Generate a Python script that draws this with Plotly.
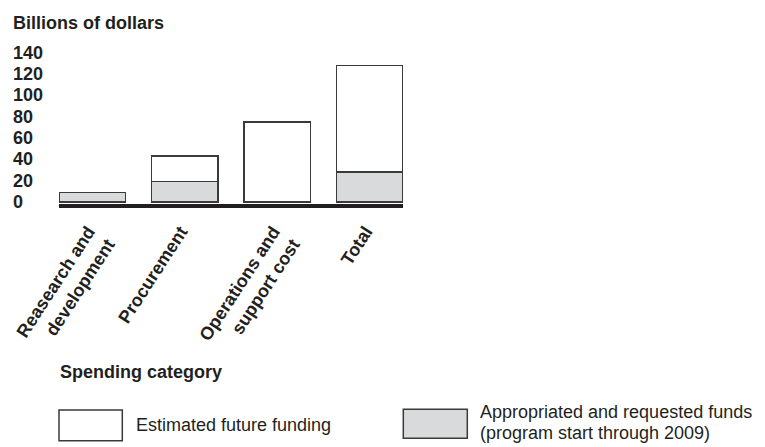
import plotly.graph_objects as go

# ---- data ----
categories = ["Reasearch and<br>development", "Procurement", "Operations and<br>support cost", "Total"]
appropriated = [9, 19, 0, 28]      # Appropriated and requested funds (program start through 2009)
future = [0, 24, 75, 100]          # Estimated future funding
y_ticks = [0, 20, 40, 60, 80, 100, 120, 140]

# ---- layout geometry (pixels) ----
FW, FH = 765, 447
L, T, R, B = 59, 50, 362, 243
W = FW - L - R
H = FH - T - B

TXT = "#231f20"
EDGE = "#3a3a3a"
GRAY = "#d9dadb"
FONT = "Liberation Sans, Arial, Helvetica, sans-serif"


def px_x(px):
    return (px - L) / W


def px_y(py):
    return (T + H - py) / H


fig = go.Figure()
fig.add_trace(go.Bar(
    x=categories, y=appropriated, name="Appropriated and requested funds",
    marker=dict(color=GRAY, line=dict(color=EDGE, width=1.5)), showlegend=False,
))
fig.add_trace(go.Bar(
    x=categories, y=future, name="Estimated future funding",
    marker=dict(color="white", line=dict(color=EDGE, width=1.5)), showlegend=False,
))

annotations = []
# y tick labels, left aligned
for v in y_ticks:
    annotations.append(dict(
        x=0, xref="paper", xshift=12 - L - 1, xanchor="left",
        y=v, yref="y", yanchor="middle",
        text=str(v), showarrow=False,
        font=dict(family=FONT, size=18, color=TXT, weight="bold"),
    ))
# axis titles
annotations.append(dict(
    x=px_x(11), xref="paper", xanchor="left",
    y=px_y(23), yref="paper", yanchor="middle",
    text="Billions of dollars", showarrow=False,
    font=dict(family=FONT, size=18, color=TXT, weight="bold"),
))
annotations.append(dict(
    x=px_x(58), xref="paper", xanchor="left",
    y=px_y(372), yref="paper", yanchor="middle",
    text="Spending category", showarrow=False,
    font=dict(family=FONT, size=18, color=TXT, weight="bold"),
))
# legend texts
leg_font = dict(family=FONT, size=18, color=TXT)
annotations.append(dict(
    x=px_x(134), xref="paper", xanchor="left",
    y=px_y(425), yref="paper", yanchor="middle",
    text="Estimated future funding", showarrow=False, font=leg_font,
))
annotations.append(dict(
    x=px_x(478), xref="paper", xanchor="left",
    y=px_y(412.3), yref="paper", yanchor="middle",
    text="Appropriated and requested funds", showarrow=False, font=leg_font,
))
annotations.append(dict(
    x=px_x(478), xref="paper", xanchor="left",
    y=px_y(433), yref="paper", yanchor="middle",
    text="(program start through 2009)", showarrow=False, font=leg_font,
))

shapes = [
    dict(type="rect", xref="paper", yref="paper",
         x0=px_x(59), x1=px_x(122.3), y0=px_y(440.7), y1=px_y(410),
         fillcolor="white", line=dict(color=EDGE, width=1.5)),
    dict(type="rect", xref="paper", yref="paper",
         x0=px_x(403.3), x1=px_x(467.3), y0=px_y(438.3), y1=px_y(409.3),
         fillcolor=GRAY, line=dict(color=EDGE, width=1.5)),
]

fig.update_layout(
    width=FW, height=FH,
    margin=dict(l=L, r=R, t=T, b=B, pad=0),
    paper_bgcolor="white", plot_bgcolor="white",
    barmode="stack", bargap=0.28,
    showlegend=False,
    annotations=annotations, shapes=shapes,
    font=dict(family=FONT, color=TXT),
)
fig.update_xaxes(
    range=[-0.36, 3.36], showline=True, linecolor=TXT, linewidth=4,
    ticks="", tickangle=-57, showgrid=False, zeroline=False,
    ticklabelshift=-4, ticklabelstandoff=6,
    tickfont=dict(family=FONT, size=18, color=TXT, weight="bold"),
    fixedrange=True,
)
fig.update_yaxes(
    range=[-1.875, 142.5], showticklabels=False, showgrid=False,
    zeroline=False, showline=False, fixedrange=True,
)

fig.write_html("out.html", config={"displayModeBar": False},
               post_script="document.body.style.margin='0';")
